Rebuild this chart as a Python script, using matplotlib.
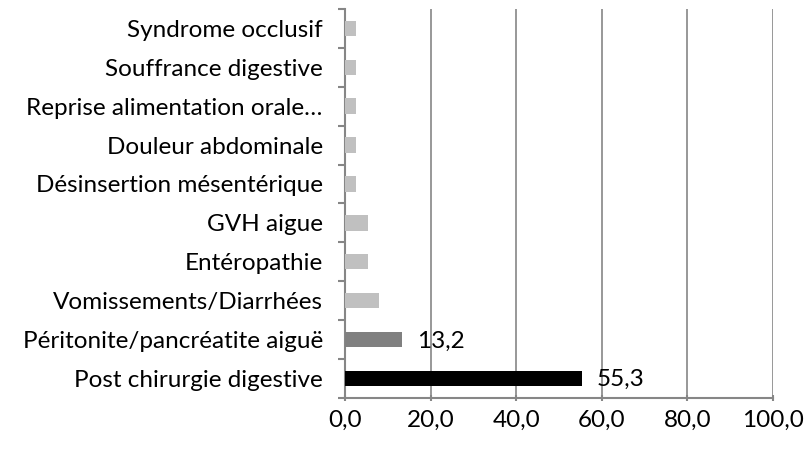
import matplotlib
matplotlib.use("Agg")
import matplotlib.pyplot as plt

categories = ["Post chirurgie digestive", "Péritonite/pancréatite aiguë",
              "Vomissements/Diarrhées", "Entéropathie", "GVH aigue",
              "Désinsertion mésentérique", "Douleur abdominale",
              "Reprise alimentation orale…", "Souffrance digestive",
              "Syndrome occlusif"]
values = [55.3, 13.2, 7.9, 5.3, 5.3, 2.6, 2.6, 2.6, 2.6, 2.6]
colors = ["#000000", "#808080"] + ["#c0c0c0"] * 8
shown_labels = {0: "55,3", 1: "13,2"}
xticks = [0, 20, 40, 60, 80, 100]

plt.rcParams['font.family'] = ['Lato', 'DejaVu Sans']
fs = 17.5

fig = plt.figure(figsize=(8.1, 4.5), dpi=100)
ax = fig.add_axes([0.426, 0.116, 0.528, 0.864])

y = range(len(categories))
ax.barh(y, values, height=0.4, color=colors, zorder=3)

for i, txt in shown_labels.items():
    ax.annotate(txt, xy=(values[i], i), xytext=(11, -1), textcoords="offset points",
                va="center", ha="left", fontsize=fs)

ax.set_xlim(0, 100)
ax.set_ylim(-0.5, len(categories) - 0.5)
ax.set_xticks(xticks)
ax.set_xticklabels([f"{v:.1f}".replace(".", ",") for v in xticks], fontsize=fs)
ax.set_yticks([i - 0.5 for i in range(len(categories) + 1)])
ax.set_yticklabels([])
ax.set_yticks(list(y), minor=True)
ax.set_yticklabels(categories, minor=True, fontsize=fs)
ax.tick_params(axis="y", which="minor", length=0, pad=16)
ax.tick_params(axis="y", which="major", length=5, width=1.5, color="#868686", direction="out")
ax.tick_params(axis="x", length=5, width=1.5, color="#868686", direction="inout", pad=6)

ax.grid(axis="x", color="#868686", linewidth=1.2, zorder=0)
for s in ["top", "right"]:
    ax.spines[s].set_visible(False)
for s in ["left", "bottom"]:
    ax.spines[s].set_color("#868686")
    ax.spines[s].set_linewidth(1.5)

fig.savefig("out.png", dpi=100)
